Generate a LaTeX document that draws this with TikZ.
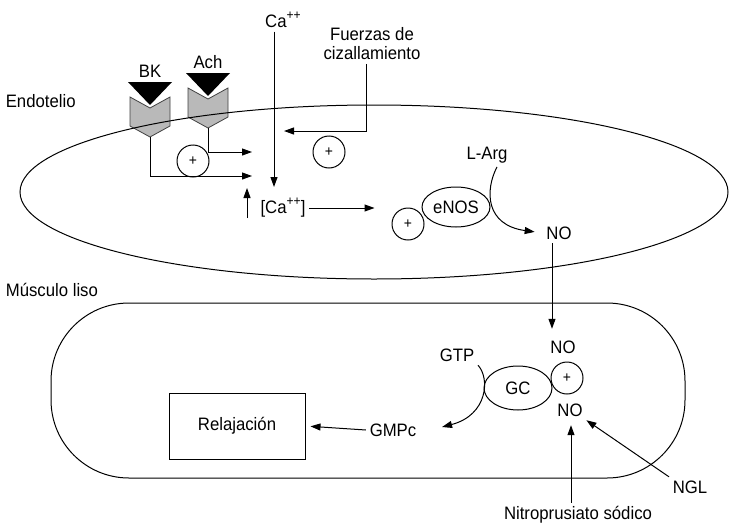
\documentclass[tikz,border=0pt]{standalone}
\usepackage{fontspec}
\setmainfont{Liberation Sans}[FakeStretch=0.93]
\usetikzlibrary{calc,shapes,arrows.meta}
\newcommand{\sobre}[1]{\raisebox{0.85ex}{\fontsize{13}{15}\selectfont #1}}
\begin{document}
\begin{tikzpicture}[x=1pt,y=-1pt,line width=1pt,
    font=\fontsize{18}{19}\selectfont,
    flecha/.style={-{Triangle[length=10pt,width=7pt]}},
    mas/.style={circle,draw,minimum size=32pt,inner sep=0pt,font=\fontsize{15}{15}\selectfont},
    enz/.style={ellipse,draw,inner sep=0pt}]
    \useasboundingbox (0,0) rectangle (730,530);
    \foreach \x/\y/\r in {150/108/BK,208/99/Ach}
        {
        \draw[shift={(\x,\y)},fill=gray!55,draw=black!75,line width=0.8pt] (-20,-11) -- (0,0) -- (20,-11) -- (20,18) -- (0,29) -- (-20,18) -- cycle;
        \fill[shift={(\x,\y)}] (-22,-26) -- (22,-26) -- (0,-3) -- cycle;
        \node (\r) at (\x,\y-37) {\r};
        \coordinate (\r-pie) at (\x,\y+29);
        }
    \node[anchor=west] (endo) at (2,101) {Endotelio};
    \node[anchor=west] (musc) at (2,290) {Músculo liso};
    \draw (374,192) ellipse [x radius=354pt, y radius=87pt];
    \draw[rounded corners=78pt] (51,303) rectangle (685,478);

    \node[mas] (m1) at (193,161) {+};
    \coordinate (r1) at (252,176);
    \coordinate (r2) at (252,152);
    \draw[flecha] (BK-pie) |- (r1);
    \draw[flecha] (Ach-pie) |- (r2);

    \node (ca) at (283,20) {Ca\sobre{++}};
    \coordinate (cafin) at (274,187);
    \draw[flecha] (ca.south -| cafin) -- (cafin);
    \node[align=center] (fz) at (372,44) {Fuerzas de\\cizallamiento};
    \coordinate (fzc) at (366,131);
    \coordinate (fzfin) at (284,131);
    \draw[flecha] (fz.south -| fzc) -- (fzc) -- (fzfin);
    \node[mas] (m2) at (329,152) {+};

    \node (cai) at (283,208) {[Ca\sobre{++}]};
    \coordinate (sub0) at (247,218);
    \coordinate (sub1) at (247,188);
    \draw[flecha] (sub0) -- (sub1);
    \node[mas] (m3) at (408,224) {+};
    \node[enz,minimum width=68pt,minimum height=40pt] (enos) at (456,207) {eNOS};
    \draw[flecha] (cai.east) -- ($(m3.west |- cai.east)+(-17,0)$);
    \node (larg) at (487,155) {L-Arg};
    \node (no1) at (559,233) {NO};
    \draw[flecha,shorten >=8pt] ([xshift=10pt]larg.south) .. controls (485,190) and (485,225) .. (no1.west);

    \node (no2) at (563,347) {NO};
    \draw[flecha,shorten >=8pt] ([xshift=-7pt]no1.south) -- ([xshift=-11pt]no2.north);
    \node[mas] (m4) at (567,378) {+};
    \node[enz,minimum width=68pt,minimum height=44pt] (gc) at (518,388) {GC};
    \node (gtp) at (457,355) {GTP};
    \node (no3) at (570,410) {NO};
    \node (gmpc) at (393,430) {GMPc};
    \node[draw,minimum width=136pt,minimum height=66pt] (rel) at (237,426) {Relajación};
    \draw[flecha] ([xshift=21pt]gtp.south) .. controls (490,378) and (488,415) .. ([shift={(22,-3)}]gmpc.east);
    \draw[flecha,shorten >=5pt] (gmpc.west) -- (rel.east);

    \node (ngl) at (690,487) {NGL};
    \node (nitro) at (578,515) {Nitroprusiato sódico};
    \draw[flecha] (ngl.north west) -- (no3.south east);
    \draw[flecha,shorten >=5pt] ([xshift=-7pt]nitro.north) -- ([xshift=1pt]no3.south);
\end{tikzpicture}
\end{document}
